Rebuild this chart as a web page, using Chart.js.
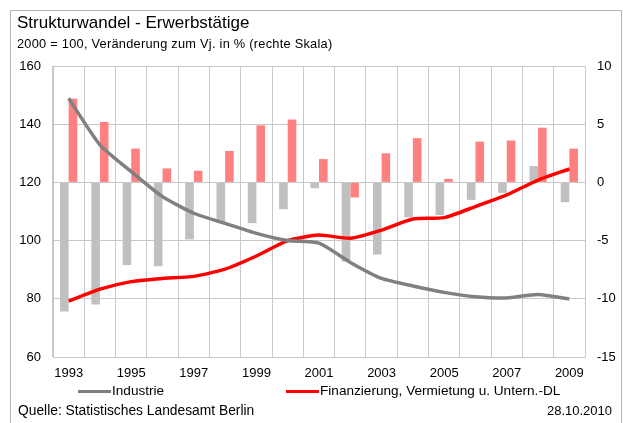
<!DOCTYPE html>
<html>
<head>
<meta charset="utf-8">
<script src="https://cdn.jsdelivr.net/npm/chart.js@4.4.0/dist/chart.umd.min.js"></script>
<style>
  body { margin: 0; background: #fff; font-family: Arial, "Liberation Sans", sans-serif; }
  #wrap { position: relative; width: 623px; height: 423px; overflow: hidden; }
  #frame { position: absolute; left: 10px; top: 10px; width: 610px; height: 430px; border: 1px solid #b4b4b4; }
  canvas { position: absolute; left: 0; top: 0; }
  .txt { position: absolute; color: #000; white-space: nowrap; }
  .leg { position: absolute; height: 3px; }
</style>
</head>
<body>
<div id="wrap">
  <div id="frame"></div>
  <canvas id="chart" width="623" height="423"></canvas>
  <div class="txt" style="left:17px;top:13px;font-size:17px;">Strukturwandel - Erwerbstätige</div>
  <div class="txt" style="left:17px;top:36px;font-size:12.8px;letter-spacing:0.25px;">2000 = 100, Veränderung zum Vj. in % (rechte Skala)</div>
  <div class="leg" style="left:78px;top:390px;width:33px;background:#808080;"></div>
  <div class="txt" style="left:112px;top:383px;font-size:13.6px;">Industrie</div>
  <div class="leg" style="left:286px;top:390px;width:33px;background:#ff0000;"></div>
  <div class="txt" style="left:320px;top:383px;font-size:13.6px;">Finanzierung, Vermietung u. Untern.-DL</div>
  <div class="txt" style="left:18px;top:403px;font-size:13.8px;">Quelle: Statistisches Landesamt Berlin</div>
  <div class="txt" style="right:11px;top:403px;font-size:13px;">28.10.2010</div>
</div>
<script>
// Jahre
const years = ['1993','1994','1995','1996','1997','1998','1999','2000','2001',
               '2002','2003','2004','2005','2006','2007','2008','2009'];

// Index 2000 = 100 (linke Skala)
const industrieIndex = [148.9, 132.9, 123.7, 115.1, 109.4, 105.9, 102.5, 100.0, 99.1,
                        92.5, 87.0, 84.4, 82.2, 80.7, 80.3, 81.5, 79.9];
const finanzIndex = [79.2, 83.3, 85.9, 87.0, 87.7, 90.2, 94.7, 100.0, 101.9,
                     100.8, 103.6, 107.4, 107.9, 111.7, 115.7, 120.8, 124.6];

// Veränderung zum Vorjahr in % (rechte Skala)
const industrieChange = [-11.1, -10.5, -7.1, -7.2, -4.9, -3.4, -3.5, -2.3, -0.5,
                         -6.8, -6.2, -3.0, -2.8, -1.5, -0.9, 1.4, -1.7];
const finanzChange = [7.2, 5.2, 2.9, 1.2, 1.0, 2.7, 4.9, 5.4, 2.0,
                      -1.3, 2.5, 3.8, 0.3, 3.5, 3.6, 4.7, 2.9];

const leftTicks = [60, 80, 100, 120, 140, 160];
const rightTicks = [-15, -10, -5, 0, 5, 10];

Chart.defaults.font.family = 'Arial, "Liberation Sans", sans-serif';
Chart.defaults.color = '#000';

const gridColor = '#c8c8c8';

new Chart(document.getElementById('chart').getContext('2d'), {
    type: 'bar',
    data: {
        labels: years,
        datasets: [
            {
                type: 'line',
                label: 'Industrie',
                data: industrieIndex,
                yAxisID: 'y',
                borderColor: '#808080',
                borderWidth: 3.5,
                pointRadius: 0,
                tension: 0.2,
                order: 1
            },
            {
                type: 'line',
                label: 'Finanzierung, Vermietung u. Untern.-DL',
                data: finanzIndex,
                yAxisID: 'y',
                borderColor: '#ff0000',
                borderWidth: 3.5,
                pointRadius: 0,
                tension: 0.2,
                order: 1
            },
            {
                label: 'Industrie Vj. %',
                data: industrieChange,
                yAxisID: 'y2',
                backgroundColor: '#c0c0c0',
                categoryPercentage: 0.55,
                barPercentage: 1.0,
                order: 2
            },
            {
                label: 'Finanzierung Vj. %',
                data: finanzChange,
                yAxisID: 'y2',
                backgroundColor: '#ff8080',
                categoryPercentage: 0.55,
                barPercentage: 1.0,
                order: 2
            }
        ]
    },
    options: {
        responsive: false,
        animation: false,
        layout: { padding: { left: 10, right: 0, top: 66, bottom: 36 } },
        scales: {
            x: {
                grid: { color: gridColor, drawTicks: false, offset: true },
                border: { color: gridColor },
                ticks: {
                    autoSkip: false,
                    maxRotation: 0,
                    padding: 9,
                    font: { size: 13 },
                    callback: (v, i) => (i % 2 === 0 ? years[i] : '')
                },
                afterFit: s => { s.height = 30; }
            },
            y: {
                position: 'left',
                min: 60,
                max: 160,
                afterBuildTicks: s => { s.ticks = leftTicks.map(v => ({ value: v })); },
                grid: { color: gridColor, drawTicks: false },
                border: { color: gridColor },
                ticks: { padding: 12, font: { size: 13 } },
                afterFit: s => { s.width = 43; }
            },
            y2: {
                position: 'right',
                min: -15,
                max: 10,
                afterBuildTicks: s => { s.ticks = rightTicks.map(v => ({ value: v })); },
                grid: { drawOnChartArea: false, drawTicks: false },
                border: { color: gridColor },
                ticks: { padding: 12, font: { size: 13 } },
                afterFit: s => { s.width = 38; }
            }
        },
        plugins: {
            legend: { display: false },
            tooltip: { enabled: false }
        }
    }
});
</script>
</body>
</html>
